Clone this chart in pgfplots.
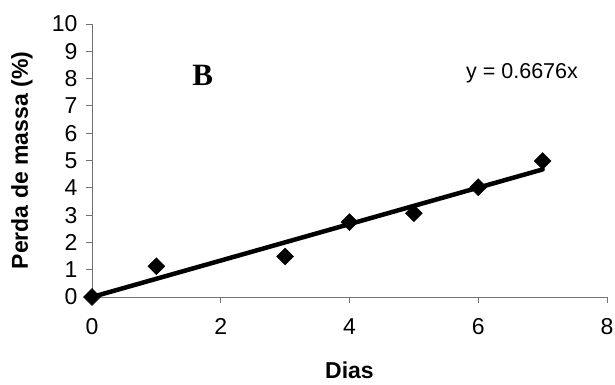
\documentclass[border=0pt]{standalone}
\usepackage{fontspec}
\setmainfont{Liberation Sans}
\newfontfamily\serifb{Liberation Serif}
\usepackage{pgfplots}
\pgfplotsset{compat=1.18}

\begin{document}
\begin{tikzpicture}
\path[use as bounding box] (-92pt,-87pt) rectangle (523pt,297pt);
\begin{axis}[
  scale only axis,
  width=515pt, height=273pt,
  xmin=0, xmax=8, ymin=0, ymax=10,
  axis lines*=left,
  axis line style={draw=black!55, line width=0.9pt},
  xtick={0,2,4,6,8},
  ytick={0,1,...,10},
  tick align=outside,
  major tick length=6pt,
  tick style={draw=black!55, line width=0.9pt},
  /pgf/number format/assume math mode=true,
  ticklabel style={font=\fontsize{23}{25}\selectfont, text=black},
  xticklabel style={yshift=-12pt},
  yticklabel style={xshift=-5pt},
  xlabel={\textbf{Dias}},
  ylabel={\textbf{Perda de massa (\%)}},
  label style={font=\fontsize{23}{25}\selectfont},
  xlabel style={at={(axis description cs:0.5,0)}, anchor=center, yshift=-73pt},
  ylabel style={at={(axis description cs:0,0.5)}, anchor=center, yshift=70pt},
  clip=false,
]
% measured mass loss
\addplot[only marks, mark=square*, mark size=6pt, mark options={rotate=45, fill=black, draw=black}]
  coordinates {(0,0) (1,1.13) (3,1.48) (4,2.74) (5,3.07) (6,4.02) (7,4.98)};
% linear fit through the origin, y = 0.6676x
\addplot[black, line width=4.5pt, line cap=round] coordinates {(0,0) (7,4.6732)};
\node[font=\serifb\bfseries\fontsize{31}{33}\selectfont] at (axis cs:1.72,8.13) {B};
\node[font=\fontsize{21.5}{23}\selectfont] at (axis cs:6.68,8.2) {y = 0.6676x};
\end{axis}
\end{tikzpicture}
\end{document}
